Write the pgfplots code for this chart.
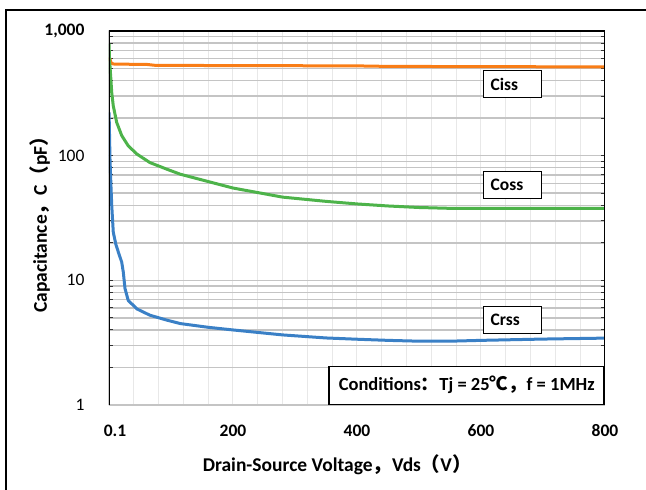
\documentclass[border=0pt]{standalone}
\usepackage{pgfplots}
\pgfplotsset{compat=1.18}
\usepackage{fontspec}
\setmainfont{Carlito}
\newfontfamily\cjk{Noto Sans CJK SC}
\definecolor{cissc}{HTML}{F97D16}
\definecolor{cossc}{HTML}{4DB34A}
\definecolor{crssc}{HTML}{3A80C6}
\definecolor{hgrid}{HTML}{C4C4C4}
\definecolor{vgrid}{HTML}{E8E8E8}
\begin{document}
\begin{tikzpicture}[font=\fontsize{17}{20}\selectfont]
\useasboundingbox (0,0) rectangle (646pt,-490pt);
\draw[line width=1.5pt] (6pt,-495pt) -- (6pt,-10pt) -- (650pt,-10pt);
\begin{axis}[
  at={(109pt,-405pt)}, anchor=south west,
  scale only axis, width=496pt, height=374pt,
  xmin=0, xmax=800, ymin=1, ymax=1000, ymode=log,
  xtick={0,200,400,600,800},
  xticklabels={\hspace{12pt}0.1,200,400,600,800},
  minor x tick num=4,
  ytick={1,10,100,1000},
  yticklabels={1,10,100,{\bfseries 1,000}},
  grid=both,
  major x grid style={draw=vgrid, line width=1pt},
  minor x grid style={draw=vgrid, line width=1pt},
  major y grid style={draw=hgrid, line width=1.4pt},
  minor y grid style={draw=hgrid, line width=1.4pt},
  xtick style={draw=none},
  ytick style={draw=black!80, line width=1pt},
  major tick length=4pt, minor tick length=4pt,
  axis line style={draw=none},
  xticklabel style={font=\fontsize{17.5}{20}\selectfont\bfseries, anchor=center, yshift=-26pt},
  yticklabel style={anchor=east, xshift=-21pt, font=\fontsize{17.5}{20}\selectfont},
  xlabel={Drain-Source Voltage{\cjk ，}Vds{\cjk （}V{\cjk ）}},
  ylabel={Capacitance{\cjk ，}C{\cjk （}pF{\cjk ）}},
  label style={font=\fontsize{19.5}{23}\selectfont\bfseries},
  xlabel style={at={(axis description cs:0.46,-0.160)}, anchor=center},
  ylabel style={at={(axis description cs:-0.139,0.495)}, anchor=center},
  every axis plot/.append style={line width=3pt, line join=round, no markers},
  clip=true,
]
\addplot[cissc] coordinates {
(0.1,615) (1.5,600) (3,560) (6,545) (10,542) (60,540) (75,530) (200,528)
(400,525) (450,520) (600,518) (800,515)};
\addplot[cossc] coordinates {
(0.1,790) (1,560) (1.6,525) (4.4,321) (6.9,251) (12.4,185) (20.5,145)
(31,120) (45,103) (66,88) (93,78) (115,71) (160,62) (200,55) (280,46.5)
(350,43) (400,41) (450,39.5) (500,38.4) (550,37.8) (600,37.7) (700,37.7) (800,37.8)};
\addplot[crssc] coordinates {
(0.1,222) (0.8,150) (1.6,94) (3,60) (4.4,40) (6.9,24.3) (11,19.5) (15,16.9)
(20.5,14) (23,11.7) (25.8,8.6) (31,6.9) (45,5.9) (66,5.25) (93,4.8)
(115,4.5) (160,4.2) (200,4.0) (280,3.65) (350,3.45) (400,3.37) (450,3.3)
(500,3.25) (550,3.25) (600,3.3) (700,3.38) (800,3.44)};
\draw[hgrid, line width=1.2pt] (rel axis cs:0,0) -- (rel axis cs:1,0);
\draw[black, line width=1.2pt] (rel axis cs:0,0) -- (rel axis cs:0,1) -- (rel axis cs:1,1);
\draw[black, line width=2pt] (rel axis cs:1,1) -- (rel axis cs:1,0);
\node[draw, fill=white, line width=1.2pt, inner xsep=7pt, text width=44pt,
  minimum height=27pt, align=left, font=\fontsize{17.5}{20}\selectfont\bfseries]
  at (axis cs:651,373) {Ciss};
\node[draw, fill=white, line width=1.2pt, inner xsep=7pt, text width=44pt,
  minimum height=27pt, align=left, font=\fontsize{17.5}{20}\selectfont\bfseries]
  at (axis cs:651,58.6) {Coss};
\node[draw, fill=white, line width=1.2pt, inner xsep=7pt, text width=44pt,
  minimum height=27pt, align=left, font=\fontsize{17.5}{20}\selectfont\bfseries]
  at (axis cs:651,4.83) {Crss};
\node[draw, fill=white, line width=1.5pt, anchor=south east, minimum width=275pt,
  minimum height=38pt, font=\fontsize{18.5}{22}\selectfont\bfseries]
  at (rel axis cs:1,0) {Conditions{\cjk ：}Tj = 25{\cjk\bfseries ℃}{\cjk ，}f = 1MHz};
\end{axis}
\end{tikzpicture}
\end{document}
